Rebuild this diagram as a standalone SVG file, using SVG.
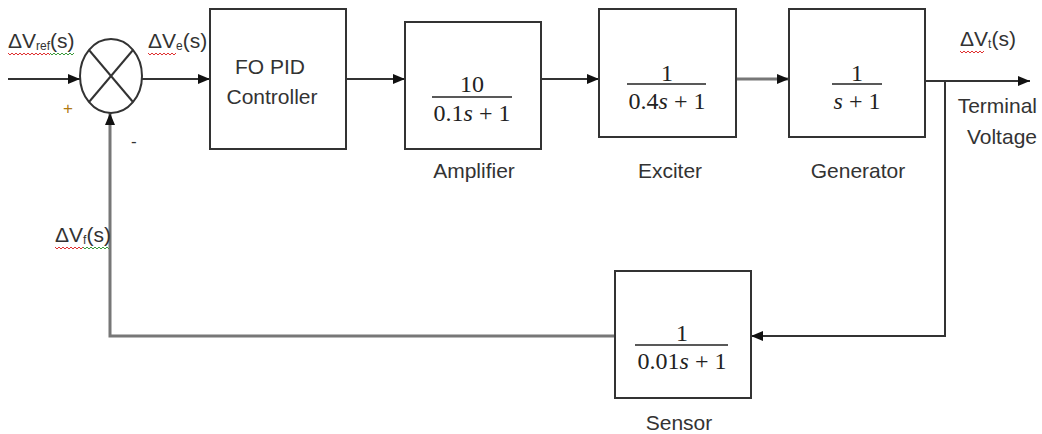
<svg xmlns="http://www.w3.org/2000/svg" width="1042" height="434" viewBox="0 0 1042 434">
<style>
.box{fill:#fff;stroke:#333;stroke-width:2}
.ln{fill:none;stroke:#333;stroke-width:2}
.gl{fill:none;stroke:#777;stroke-width:3}
.t{font-family:"Liberation Sans",Arial,sans-serif;font-size:21px;fill:#333}
.m{font-family:"Liberation Serif","Times New Roman",serif;font-size:24px;fill:#222;text-anchor:middle}
.sub{font-size:12px}
.red{fill:none;stroke:#e03030;stroke-width:1}
.grn{fill:none;stroke:#3a9a3a;stroke-width:1}
.frac{stroke:#222;stroke-width:1.5}
</style>
<defs>
<marker id="ah" viewBox="0 0 12 10" refX="12" refY="5" markerWidth="12" markerHeight="10" markerUnits="userSpaceOnUse" orient="auto">
<path d="M0,0 L12,5 L0,10 Z" fill="#111"/>
</marker>
</defs>
<rect width="1042" height="434" fill="#fff"/>

<g id="connectors">
<line class="ln" x1="8" y1="79" x2="80" y2="79" marker-end="url(#ah)"/>
<line class="ln" x1="142" y1="79" x2="210" y2="79" marker-end="url(#ah)"/>
<line class="ln" x1="346" y1="79" x2="405" y2="79" marker-end="url(#ah)"/>
<line class="ln" x1="541" y1="79" x2="599" y2="79" marker-end="url(#ah)"/>
<line class="gl" x1="736" y1="79" x2="789" y2="79" marker-end="url(#ah)"/>
<line class="ln" x1="925" y1="81" x2="1030" y2="81" marker-end="url(#ah)"/>
<polyline class="ln" points="945,81 945,336 751,336" marker-end="url(#ah)"/>
<polyline class="gl" points="615,336 110,336 110,113" marker-end="url(#ah)"/>
</g>

<g id="sum">
<ellipse cx="111" cy="76" rx="31" ry="37" fill="#fff" stroke="#333" stroke-width="2"/>
<line class="ln" x1="89" y1="50" x2="133" y2="102"/>
<line class="ln" x1="133" y1="50" x2="89" y2="102"/>
<text x="63" y="114" style="font-family:'Liberation Sans',sans-serif;font-size:17px;fill:#b07a10">+</text>
<text x="131" y="147" style="font-family:'Liberation Sans',sans-serif;font-size:17px;fill:#333">-</text>
</g>

<g id="label-ref">
<text class="t" x="8" y="48">ΔV<tspan class="sub" dy="2">ref</tspan><tspan dy="-2">(s)</tspan></text>
<polyline class="red" points="8,53 10,55 12,53 14,55 16,53 18,55 20,53 22,55 24,53 26,55 28,53 30,55 32,53 34,55 36,53 38,55 40,53 42,55 44,53 46,55 48,53 50,55"/>
<polyline class="grn" points="50,53 52,55 54,53 56,55 58,53 60,55 62,53 64,55 66,53 68,55 70,53 72,55 74,53"/>
</g>

<g id="label-e">
<text class="t" x="148" y="48">ΔV<tspan class="sub" dy="2">e</tspan><tspan dy="-2">(s)</tspan></text>
<polyline class="red" points="148,53 150,55 152,53 154,55 156,53 158,55 160,53 162,55 164,53 166,55 168,53 170,55 172,53 174,55 176,53"/>
</g>

<g id="label-t">
<text class="t" x="960" y="46">ΔV<tspan class="sub" dy="2">t</tspan><tspan dy="-2">(s)</tspan></text>
<polyline class="red" points="960,51 962,53 964,51 966,53 968,51 970,53 972,51 974,53 976,51 978,53 980,51 982,53 984,51"/>
</g>

<g id="label-f">
<text class="t" x="55" y="242">ΔV<tspan class="sub" dy="2">f</tspan><tspan dy="-2">(s)</tspan></text>
<polyline class="red" points="55,247 57,249 59,247 61,249 63,247 65,249 67,247 69,249 71,247 73,249 75,247 77,249 79,247 81,249 83,247"/>
<polyline class="grn" points="83,247 85,249 87,247 89,249 91,247 93,249 95,247 97,249 99,247 101,249 103,247 105,249 107,247 109,249"/>
</g>

<g id="fopid">
<rect class="box" x="210" y="9" width="136" height="140"/>
<text class="t" x="270" y="74" text-anchor="middle">FO PID</text>
<text class="t" x="272" y="104" text-anchor="middle">Controller</text>
</g>

<g id="amplifier">
<rect class="box" x="405" y="22" width="136" height="127"/>
<text class="m" x="472" y="92">10</text>
<line class="frac" x1="432" y1="97" x2="512" y2="97"/>
<text class="m" x="472" y="121">0.1<tspan font-style="italic">s</tspan> + 1</text>
<text class="t" x="474" y="178" text-anchor="middle">Amplifier</text>
</g>

<g id="exciter">
<rect class="box" x="599" y="9" width="137" height="128"/>
<text class="m" x="667" y="81">1</text>
<line class="frac" x1="627" y1="84" x2="706" y2="84"/>
<text class="m" x="667" y="109">0.4<tspan font-style="italic">s</tspan> + 1</text>
<text class="t" x="670" y="178" text-anchor="middle">Exciter</text>
</g>

<g id="generator">
<rect class="box" x="789" y="9" width="136" height="128"/>
<text class="m" x="857" y="81">1</text>
<line class="frac" x1="832" y1="84" x2="882" y2="84"/>
<text class="m" x="857" y="109"><tspan font-style="italic">s</tspan> + 1</text>
<text class="t" x="858" y="178" text-anchor="middle">Generator</text>
</g>

<g id="output-label">
<text class="t" x="1037" y="113" text-anchor="end">Terminal</text>
<text class="t" x="1037" y="144" text-anchor="end">Voltage</text>
</g>

<g id="sensor">
<rect class="box" x="615" y="271" width="136" height="127"/>
<text class="m" x="682" y="341">1</text>
<line class="frac" x1="635" y1="345" x2="728" y2="345"/>
<text class="m" x="682" y="369">0.01<tspan font-style="italic">s</tspan> + 1</text>
<text class="t" x="679" y="430" text-anchor="middle">Sensor</text>
</g>
</svg>
